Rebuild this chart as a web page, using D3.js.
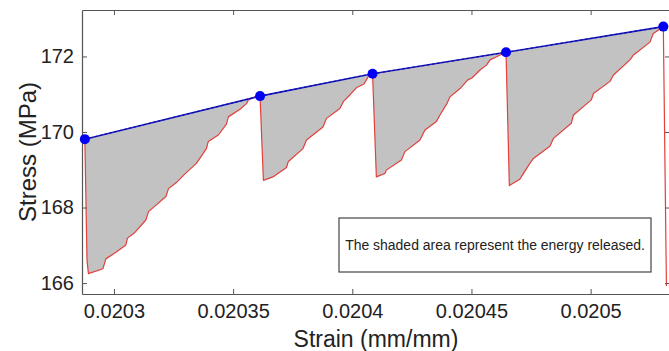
<!DOCTYPE html>
<html><head><meta charset="utf-8">
<script src="https://cdn.jsdelivr.net/npm/d3@7"></script>
<style>body{margin:0;background:#fff}svg{display:block}text{font-family:"Liberation Sans",Arial,Helvetica,sans-serif;fill:#222}</style>
</head><body><svg id="c" width="669" height="351"></svg>
<script>
// ---- data ----
const peakStrain = [0.0202878, 0.0203613, 0.0204085, 0.0204645, 0.0205305];
const peakStress = [169.81, 170.95, 171.54, 172.11, 172.79];

const redStrain = [
  0.0202878, 0.0202887, 0.0202893, 0.0202954, 0.0202966, 0.0203010, 0.0203050, 0.0203057, 0.0203088,
  0.0203134, 0.0203145, 0.0203178, 0.0203218, 0.0203229, 0.0203262, 0.0203298, 0.0203346,
  0.0203388, 0.0203396, 0.0203438, 0.0203472, 0.0203480, 0.0203529, 0.0203556, 0.0203564,
  0.0203592, 0.0203613,
  0.0203627, 0.0203667, 0.0203724, 0.0203732, 0.0203793, 0.0203808, 0.0203877, 0.0203892,
  0.0203948, 0.0203963, 0.0203990, 0.0204017, 0.0204049, 0.0204061, 0.0204070, 0.0204085,
  0.0204101, 0.0204137, 0.0204143, 0.0204206, 0.0204221, 0.0204284, 0.0204305, 0.0204353,
  0.0204368, 0.0204397, 0.0204410, 0.0204452, 0.0204485, 0.0204502, 0.0204536, 0.0204563,
  0.0204578, 0.0204607, 0.0204645,
  0.0204659, 0.0204703, 0.0204745, 0.0204760, 0.0204829, 0.0204844, 0.0204919, 0.0204928,
  0.0205003, 0.0205012, 0.0205081, 0.0205096, 0.0205165, 0.0205180, 0.0205249, 0.0205263,
  0.0205291, 0.0205305,
  0.0205318
];
const redStress = [
  169.81, 166.60, 166.25, 166.38, 166.64, 166.82, 167.01, 167.19, 167.34,
  167.67, 167.89, 168.07, 168.29, 168.50, 168.66, 168.89, 169.17,
  169.56, 169.75, 169.92, 170.21, 170.40, 170.60, 170.75, 170.85,
  170.93, 170.95,
  168.72, 168.81, 169.06, 169.22, 169.56, 169.79, 170.13, 170.36,
  170.62, 170.81, 170.98, 171.17, 171.27, 171.40, 171.51, 171.54,
  168.81, 168.90, 168.99, 169.26, 169.48, 169.79, 170.05, 170.28,
  170.45, 170.75, 170.93, 171.15, 171.38, 171.43, 171.64, 171.77,
  171.91, 172.00, 172.11,
  168.58, 168.75, 169.17, 169.30, 169.62, 169.83, 170.23, 170.45,
  170.85, 171.02, 171.34, 171.51, 171.91, 172.04, 172.38, 172.61,
  172.73, 172.79,
  165.92
];

const xTicks = [0.0203, 0.02035, 0.0204, 0.02045, 0.0205];
const xTickLabels = ["0.0203", "0.02035", "0.0204", "0.02045", "0.0205"];
const yTicks = [166, 168, 170, 172];
const yTickLabels = ["166", "168", "170", "172"];
const xDomain = [0.0202866, 0.0205333];
const yDomain = [165.71, 173.23];
const xLabel = "Strain (mm/mm)";
const yLabel = "Stress (MPa)";
const noteText = "The shaded area represent the energy released.";

// ---- drawing ----
const svg = d3.select("#c");
const L = 82, T = 10, R = 670, B = 294;
const x = d3.scaleLinear().domain(xDomain).range([L, R]);
const y = d3.scaleLinear().domain(yDomain).range([B, T]);

const red = redStrain.map((s, i) => [s, redStress[i]]);
const peakIdx = peakStrain.map(p => redStrain.findIndex(s => Math.abs(s - p) < 1e-10));
const line = d3.line().x(d => x(d[0])).y(d => y(d[1]));

svg.append("defs").append("clipPath").attr("id", "pa")
  .append("rect").attr("x", L).attr("y", T).attr("width", R - L).attr("height", B - T);
const g = svg.append("g").attr("clip-path", "url(#pa)");

for (let k = 0; k < peakIdx.length - 1; k++) {
  const seg = red.slice(peakIdx[k], peakIdx[k + 1] + 1);
  g.append("path").attr("d", line(seg) + "Z")
    .attr("fill", "#c2c2c2").attr("stroke", "none");
}
g.append("path").attr("d", line(red)).attr("fill", "none")
  .attr("stroke", "#e2403c").attr("stroke-width", 1.2).attr("stroke-linejoin", "round");

const peaks = peakStrain.map((s, i) => [s, peakStress[i]]);
g.append("path").attr("d", line(peaks)).attr("fill", "none")
  .attr("stroke", "#1f1fe0").attr("stroke-width", 1.6);
g.append("path").attr("d", line(peaks)).attr("fill", "none")
  .attr("stroke", "#0a0a70").attr("stroke-width", 1).attr("stroke-dasharray", "3,2");

// axes (MATLAB-style box, inward ticks)
const axColor = "#555";
const ax = svg.append("g");
const xb = d3.axisBottom(x).tickValues(xTicks).tickSizeInner(-5).tickSizeOuter(0)
  .tickFormat((d, i) => xTickLabels[i]).tickPadding(10);
const xt = d3.axisTop(x).tickValues(xTicks).tickSizeInner(-5).tickSizeOuter(0).tickFormat("");
const yl = d3.axisLeft(y).tickValues(yTicks).tickSizeInner(-5).tickSizeOuter(0)
  .tickFormat((d, i) => yTickLabels[i]).tickPadding(8);
const yr = d3.axisRight(y).tickValues(yTicks).tickSizeInner(-5).tickSizeOuter(0).tickFormat("");
const gx = ax.append("g").attr("transform", `translate(0,${B})`).call(xb);
const gxt = ax.append("g").attr("transform", `translate(0,${T})`).call(xt);
const gy = ax.append("g").attr("transform", `translate(${L},0)`).call(yl);
const gyr = ax.append("g").attr("transform", `translate(${R},0)`).call(yr);
[gx, gxt, gy, gyr].forEach(a => {
  a.select(".domain").attr("stroke", axColor).attr("stroke-width", 1.2);
  a.selectAll(".tick line").attr("stroke", axColor);
  a.selectAll("text").attr("fill", "#222").style("font-family", '"Liberation Sans",Arial,sans-serif');
});
gx.selectAll("text").attr("font-size", 20);
gy.selectAll("text").attr("font-size", 20);

// markers drawn on top, not clipped
svg.append("g").selectAll("circle").data(peaks).join("circle")
  .attr("cx", d => x(d[0])).attr("cy", d => y(d[1])).attr("r", 5)
  .attr("fill", "#0000f5");

svg.append("text").attr("x", (L + R) / 2).attr("y", 347)
  .attr("text-anchor", "middle").attr("font-size", 23).text(xLabel);
svg.append("text").attr("transform", `translate(36,${(T + B) / 2}) rotate(-90)`)
  .attr("text-anchor", "middle").attr("font-size", 24).text(yLabel);

// note box
const bx0 = 339, by0 = 218, bx1 = 651, by1 = 272;
svg.append("rect").attr("x", bx0).attr("y", by0).attr("width", bx1 - bx0).attr("height", by1 - by0)
  .attr("fill", "#fff").attr("stroke", "#444").attr("stroke-width", 1.2);
const nt = svg.append("text").attr("x", (bx0 + bx1) / 2).attr("y", 250)
  .attr("text-anchor", "middle").attr("font-size", 13).text(noteText);
const w = nt.node().getComputedTextLength();
nt.attr("font-size", 13 * 300 / w);
</script></body></html>
